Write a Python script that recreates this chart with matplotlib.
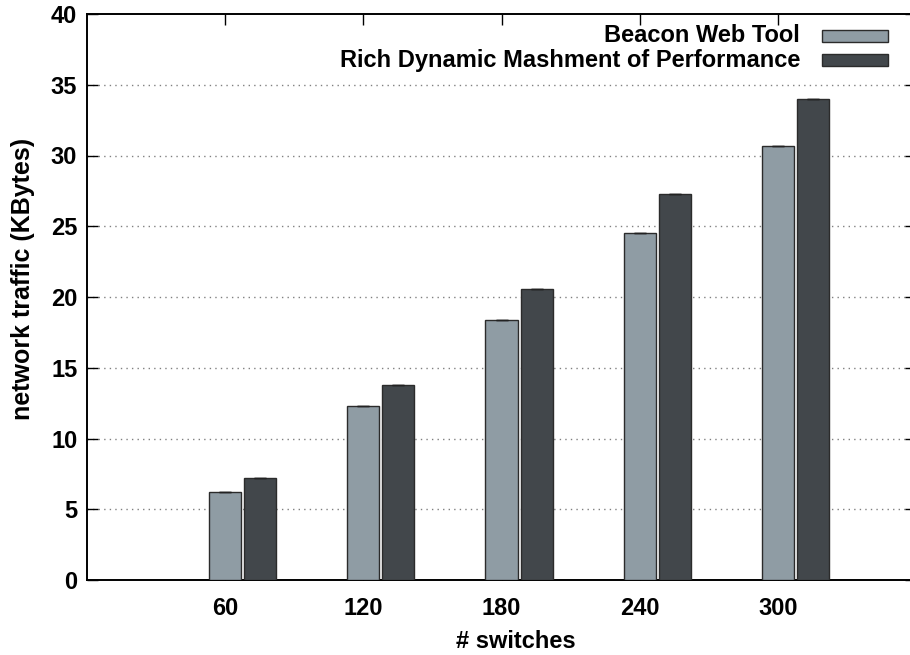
import matplotlib
matplotlib.use("Agg")
import matplotlib.pyplot as plt
import numpy as np
from matplotlib.patches import Rectangle

categories = ["60", "120", "180", "240", "300"]
beacon = [6.25, 12.3, 18.4, 24.5, 30.7]
rdmp = [7.2, 13.8, 20.6, 27.3, 34.0]
series_names = ["Beacon Web Tool", "Rich Dynamic Mashment of Performance"]
colors = ["#8f9ca4", "#42474b"]
yticks = [0, 5, 10, 15, 20, 25, 30, 35, 40]

plt.rcParams['font.family'] = ['Liberation Sans', 'DejaVu Sans']
plt.rcParams['font.weight'] = 'bold'

fig = plt.figure(figsize=(9.1, 6.55), dpi=100)
W, H = 910, 655
left, right, top, bottom = 87, 916, 14, 580
ax = fig.add_axes([left / W, (H - bottom) / H, (right - left) / W, (bottom - top) / H])

x = np.arange(len(categories))
bw = 0.232
off = 0.2536
ax.bar(x, beacon, width=bw, color=colors[0], edgecolor="#2b2b2b", linewidth=1.0, zorder=3)
ax.bar(x + off, rdmp, width=bw, color=colors[1], edgecolor="#2b2b2b", linewidth=1.0, zorder=3)
ax.errorbar(x, beacon, yerr=0, fmt='none', ecolor='#222222', capsize=4, elinewidth=1, zorder=4)
ax.errorbar(x + off, rdmp, yerr=0, fmt='none', ecolor='#222222', capsize=4, elinewidth=1, zorder=4)

ax.set_xlim(-1.0, 5.0)
ax.set_ylim(0, 40)
ax.set_yticks(yticks)
ax.set_xticks(x)
ax.set_xticklabels(categories)

for yv in yticks[1:-1]:
    ax.axhline(yv, color="#808080", linestyle=(0, (1, 3)), linewidth=1.0, zorder=1)

ax.tick_params(axis='both', direction='in', length=8, width=1, labelsize=17,
               top=True, right=True, colors='black')
ax.tick_params(axis='y', pad=7)
ax.tick_params(axis='x', pad=12)
for lab in ax.get_xticklabels() + ax.get_yticklabels():
    lab.set_fontweight('bold')
for s in ax.spines.values():
    s.set_linewidth(1.4)

ax.set_xlabel("# switches", fontsize=17, fontweight='bold', labelpad=8)
ax.xaxis.set_label_coords((516 - left) / (right - left), -(641 - bottom) / (bottom - top), transform=ax.transAxes)
ax.xaxis.label.set_va('center')
ax.set_ylabel("network traffic (KBytes)", fontsize=18, fontweight='bold')
ax.yaxis.set_label_coords(-(87 - 23) / (right - left), (bottom - 279) / (bottom - top), transform=ax.transAxes)
ax.yaxis.label.set_va('center')

# legend (manual, gnuplot style)
leg_y = [36, 60]
for i, name in enumerate(series_names):
    yc = leg_y[i]
    fig.text(800 / W, 1 - yc / H, name, ha='right', va='center', fontsize=17,
             fontweight='bold')
    fig.patches.append(Rectangle((822 / W, 1 - (yc + 6) / H), 66 / W, 12 / H,
                                 transform=fig.transFigure, facecolor=colors[i],
                                 edgecolor="#2b2b2b", linewidth=1.0))

fig.savefig("out.png", dpi=100)
